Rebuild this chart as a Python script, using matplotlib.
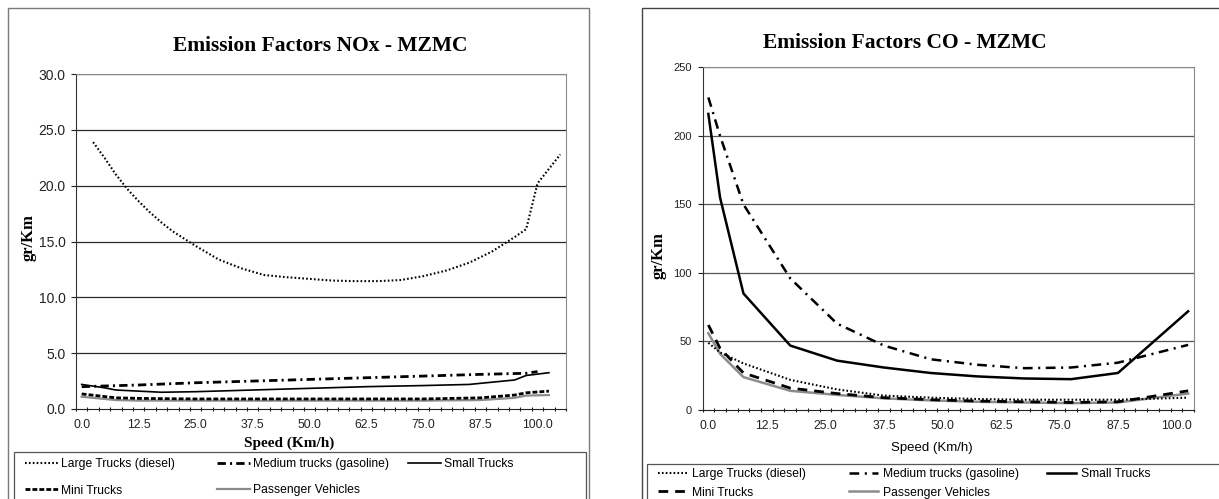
import matplotlib
matplotlib.use("Agg")
import matplotlib.pyplot as plt
from matplotlib.patches import Rectangle
from matplotlib.ticker import FixedLocator, FormatStrFormatter

plt.rcParams['font.family'] = ['Liberation Sans', 'DejaVu Sans']
plt.rcParams['lines.scale_dashes'] = False

W, H = 1219, 499

# ---- data: NOx (gr/Km vs speed Km/h)
labels = ["Large Trucks (diesel)", "Medium trucks (gasoline)", "Small Trucks",
          "Mini Trucks", "Passenger Vehicles"]

nox_large_x = [2.5, 5, 7.5, 10, 12.5, 15, 17.5, 20, 25, 30, 35, 40, 45, 50, 55,
               60, 65, 70, 75, 80, 85, 90, 95, 97.5, 100, 105]
nox_large_y = [23.9, 22.5, 21.0, 19.7, 18.6, 17.6, 16.7, 15.9, 14.6, 13.4, 12.6,
               12.0, 11.8, 11.65, 11.5, 11.45, 11.45, 11.55, 11.9, 12.4, 13.1,
               14.1, 15.4, 16.1, 20.2, 22.8]
nox_medium_x = [0, 12.5, 25, 37.5, 50, 62.5, 75, 87.5, 97.5, 100]
nox_medium_y = [2.0, 2.15, 2.35, 2.5, 2.65, 2.8, 2.95, 3.1, 3.2, 3.35]
nox_small_x = [0, 5, 7.5, 12.5, 17.5, 25, 37.5, 50, 62.5, 75, 85, 95, 97.5, 102.5]
nox_small_y = [2.2, 1.9, 1.7, 1.6, 1.5, 1.55, 1.7, 1.85, 2.0, 2.1, 2.2, 2.6, 3.0, 3.25]
nox_mini_x = [0, 7.5, 12.5, 25, 50, 75, 87.5, 95, 97.5, 102.5]
nox_mini_y = [1.35, 1.0, 0.95, 0.9, 0.9, 0.9, 1.0, 1.25, 1.45, 1.6]
nox_pass_x = [0, 7.5, 12.5, 25, 50, 75, 87.5, 95, 97.5, 102.5]
nox_pass_y = [1.1, 0.8, 0.75, 0.75, 0.75, 0.75, 0.8, 1.0, 1.2, 1.25]

# ---- data: CO
co_x = [0, 2.5, 7.5, 17.5, 27.5, 37.5, 47.5, 57.5, 67.5, 77.5, 87.5, 102.5]
co_large = [49, 42, 34, 22, 15, 10.5, 9, 8, 7.5, 7.5, 7.5, 9]
co_medium = [228, 200, 150, 96, 63, 47, 37, 33, 30.5, 31, 34.5, 47.5]
co_small = [216, 155, 85, 47, 36, 31, 27, 24.5, 23, 22.5, 27, 72]
co_mini = [62, 45, 27, 16, 12, 9, 7.5, 6.5, 6, 5.5, 6, 14]
co_pass = [56, 41, 24, 14, 11, 8.5, 7, 6, 5.5, 5, 5.5, 12]

xtick_vals = [0, 12.5, 25, 37.5, 50, 62.5, 75, 87.5, 100]


def fx(px):
    return px / W


def fy(py):
    return 1 - py / H


def px_axes(fig, left, top, right, bottom):
    return fig.add_axes([fx(left), fy(bottom), (right - left) / W, (bottom - top) / H])


def style_axes(ax, ncat, ymax, ystep, yfmt, grid_color, ytick_size):
    ax.set_xlim(-1.25, -1.25 + 2.5 * ncat)
    ax.set_ylim(0, ymax)
    ax.xaxis.set_major_locator(FixedLocator(xtick_vals))
    ax.xaxis.set_major_formatter(FormatStrFormatter('%.1f'))
    ax.xaxis.set_minor_locator(FixedLocator([-1.25 + 2.5 * i for i in range(ncat + 1)]))
    ax.tick_params(axis='x', which='major', length=0, pad=7, labelsize=8.7, colors='#222222')
    ax.tick_params(axis='x', which='minor', length=3.5, direction='inout', width=0.8, color='#222222')
    yt = [ystep * i for i in range(int(round(ymax / ystep)) + 1)]
    ax.yaxis.set_major_locator(FixedLocator(yt))
    ax.yaxis.set_major_formatter(FormatStrFormatter(yfmt))
    ax.tick_params(axis='y', length=3.5, width=0.8, pad=4, labelsize=ytick_size, colors='#222222')
    for y in yt[1:]:
        ax.axhline(y, color=grid_color, lw=0.9, zorder=1)
    ax.spines['left'].set_color('#333333')
    ax.spines['bottom'].set_color('#222222')
    ax.spines['top'].set_color('#8a8a8a')
    ax.spines['right'].set_color('#8a8a8a')


def add_legend(ax, fig, handles, names, cols_x, top_y, fsize, hlen, hpad, lspace):
    # one legend per column, placed at the pixel positions of the reference
    groups = [[0, 3], [1, 4], [2]]
    legs = []
    for cx, g in zip(cols_x, groups):
        leg = ax.legend([handles[i] for i in g], [names[i] for i in g],
                        loc='upper left', bbox_to_anchor=(fx(cx), fy(top_y)),
                        bbox_transform=fig.transFigure, frameon=False,
                        borderpad=0, borderaxespad=0, handlelength=hlen,
                        handletextpad=hpad, labelspacing=lspace,
                        prop={'family': 'Liberation Sans', 'size': fsize})
        legs.append(leg)
    for leg in legs[:-1]:
        ax.add_artist(leg)


fig = plt.figure(figsize=(W / 100, H / 100), dpi=100)

# outer frames and legend boxes
fig.add_artist(Rectangle((fx(8), fy(520)), (589 - 8) / W, (520 - 8) / H,
                         transform=fig.transFigure, fill=False, ec='#7a7a7a', lw=1.0))
fig.add_artist(Rectangle((fx(642), fy(520)), (1240 - 642) / W, (520 - 8) / H,
                         transform=fig.transFigure, fill=False, ec='#444444', lw=1.0))
fig.add_artist(Rectangle((fx(14), fy(520)), (586 - 14) / W, (520 - 452) / H,
                         transform=fig.transFigure, fill=False, ec='#555555', lw=0.9))
fig.add_artist(Rectangle((fx(647), fy(520)), (1240 - 647) / W, (520 - 464) / H,
                         transform=fig.transFigure, fill=False, ec='#555555', lw=0.9))

# ---------------- NOx panel
ax1 = px_axes(fig, 76, 74, 566, 409)
style_axes(ax1, 43, 30, 5, '%.1f', '#2a2a2a', 10)
h1 = [
    ax1.plot(nox_large_x, nox_large_y, color='black', lw=1.5, dashes=(1.2, 1.6), zorder=3)[0],
    ax1.plot(nox_medium_x, nox_medium_y, color='black', lw=2.0, dashes=(6, 3, 1.5, 3), zorder=3)[0],
    ax1.plot(nox_small_x, nox_small_y, color='black', lw=1.2, zorder=3)[0],
    ax1.plot(nox_mini_x, nox_mini_y, color='black', lw=2.0, dashes=(3.5, 1.5), zorder=3)[0],
    ax1.plot(nox_pass_x, nox_pass_y, color='#8c8c8c', lw=1.6, zorder=2)[0],
]
fig.text(fx(320), fy(46), "Emission Factors NOx - MZMC", ha='center', va='center',
         family='Liberation Serif', weight='bold', fontsize=15.5)
fig.text(fx(29), fy(238), "gr/Km", ha='center', va='center', rotation=90,
         family='Liberation Serif', weight='bold', fontsize=12)
fig.text(fx(289), fy(443), "Speed (Km/h)", ha='center', va='center',
         family='Liberation Serif', weight='bold', fontsize=11)
add_legend(ax1, fig, h1, labels, [25, 217, 408], 458, 8.7, 2.7, 0.25, 1.2)

# ---------------- CO panel
ax2 = px_axes(fig, 702.5, 67.3, 1194, 410)
style_axes(ax2, 42, 250, 50, '%d', '#555555', 8)
h2 = [
    ax2.plot(co_x, co_large, color='black', lw=1.5, dashes=(1.2, 1.6), zorder=3)[0],
    ax2.plot(co_x, co_medium, color='black', lw=1.8, dashes=(7, 4, 1.5, 4), zorder=3)[0],
    ax2.plot(co_x, co_small, color='black', lw=1.8, zorder=3)[0],
    ax2.plot(co_x, co_mini, color='black', lw=2.0, dashes=(7, 5), zorder=3)[0],
    ax2.plot(co_x, co_pass, color='#8c8c8c', lw=1.8, zorder=2)[0],
]
fig.text(fx(905), fy(43), "Emission Factors CO - MZMC", ha='center', va='center',
         family='Liberation Serif', weight='bold', fontsize=15.5)
fig.text(fx(659), fy(256), "gr/Km", ha='center', va='center', rotation=90,
         family='Liberation Serif', weight='bold', fontsize=12)
fig.text(fx(932), fy(448), "Speed (Km/h)", ha='center', va='center', fontsize=9.5)
add_legend(ax2, fig, h2, labels, [658, 849, 1047], 468, 8.7, 2.4, 0.45, 0.55)

fig.savefig("out.png", dpi=100)
